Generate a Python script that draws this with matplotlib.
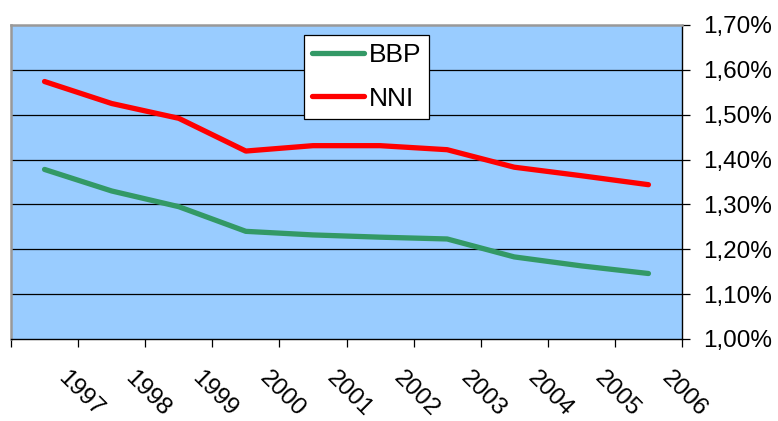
import matplotlib
matplotlib.use("Agg")
import matplotlib.pyplot as plt
import matplotlib.transforms as mtransforms
from matplotlib.ticker import FuncFormatter

years = ["1997", "1998", "1999", "2000", "2001", "2002", "2003", "2004", "2005", "2006"]
bbp = [1.378, 1.330, 1.295, 1.240, 1.232, 1.227, 1.223, 1.183, 1.163, 1.146]
nni = [1.574, 1.525, 1.492, 1.419, 1.431, 1.431, 1.422, 1.383, 1.364, 1.344]
yticks = [1.00, 1.10, 1.20, 1.30, 1.40, 1.50, 1.60, 1.70]

plt.rcParams['font.family'] = ['Liberation Sans', 'DejaVu Sans']
FS = 17.5
LFS = 19

fig = plt.figure(figsize=(7.78, 4.21), dpi=100)
ax = fig.add_axes([11/778, 1-339/421, (682-11)/778, (339-25)/421])
ax.set_facecolor('#99CCFF')

n = len(years)
xs = [i + 0.5 for i in range(n)]
ax.plot(xs, bbp, color='#339966', lw=3.8, solid_capstyle='round', solid_joinstyle='round', label='BBP', zorder=3)
ax.plot(xs, nni, color='#FF0000', lw=3.8, solid_capstyle='round', solid_joinstyle='round', label='NNI', zorder=3)

ax.set_xlim(0, n)
ax.set_ylim(1.0, 1.7)

# y axis on right
ax.yaxis.tick_right()
ax.set_yticks(yticks)
ax.yaxis.set_major_formatter(FuncFormatter(lambda v, p: f"{v:.2f}".replace('.', ',') + '%'))
ax.tick_params(axis='y', direction='out', length=6, width=0.9, pad=9.5, labelsize=FS, colors='black')
for yv in yticks[1:-1]:
    ax.axhline(yv, color='black', lw=0.9, zorder=1)

# x axis: tick marks at boundaries, labels at centers
ax.set_xticks(range(n + 1), minor=True)
ax.set_xticks(xs)
ax.set_xticklabels(years)
ax.tick_params(axis='x', which='minor', direction='out', length=6, width=0.9)
ax.tick_params(axis='x', which='major', length=0, pad=39.5, labelsize=FS)
offset = mtransforms.ScaledTranslation(36/100, 0, fig.dpi_scale_trans)
for lab in ax.get_xticklabels():
    lab.set_rotation(-45)
    lab.set_rotation_mode('anchor')
    lab.set_ha('center')
    lab.set_va('center')
    lab.set_transform(lab.get_transform() + offset)

for s in ['left', 'top']:
    ax.spines[s].set_color('#999999')
    ax.spines[s].set_linewidth(1.8)
for s in ['right', 'bottom']:
    ax.spines[s].set_color('black')
    ax.spines[s].set_linewidth(1.0)

leg = ax.legend(loc='upper left', bbox_to_anchor=(304/778, 1-35/421), bbox_transform=fig.transFigure,
                fontsize=LFS, frameon=True, fancybox=False, framealpha=1, edgecolor='black',
                handlelength=1.97, handletextpad=0.15, labelspacing=0.73, borderpad=0.32,
                borderaxespad=0)
leg.get_frame().set_linewidth(0.9)

fig.savefig('out.png', dpi=100)
